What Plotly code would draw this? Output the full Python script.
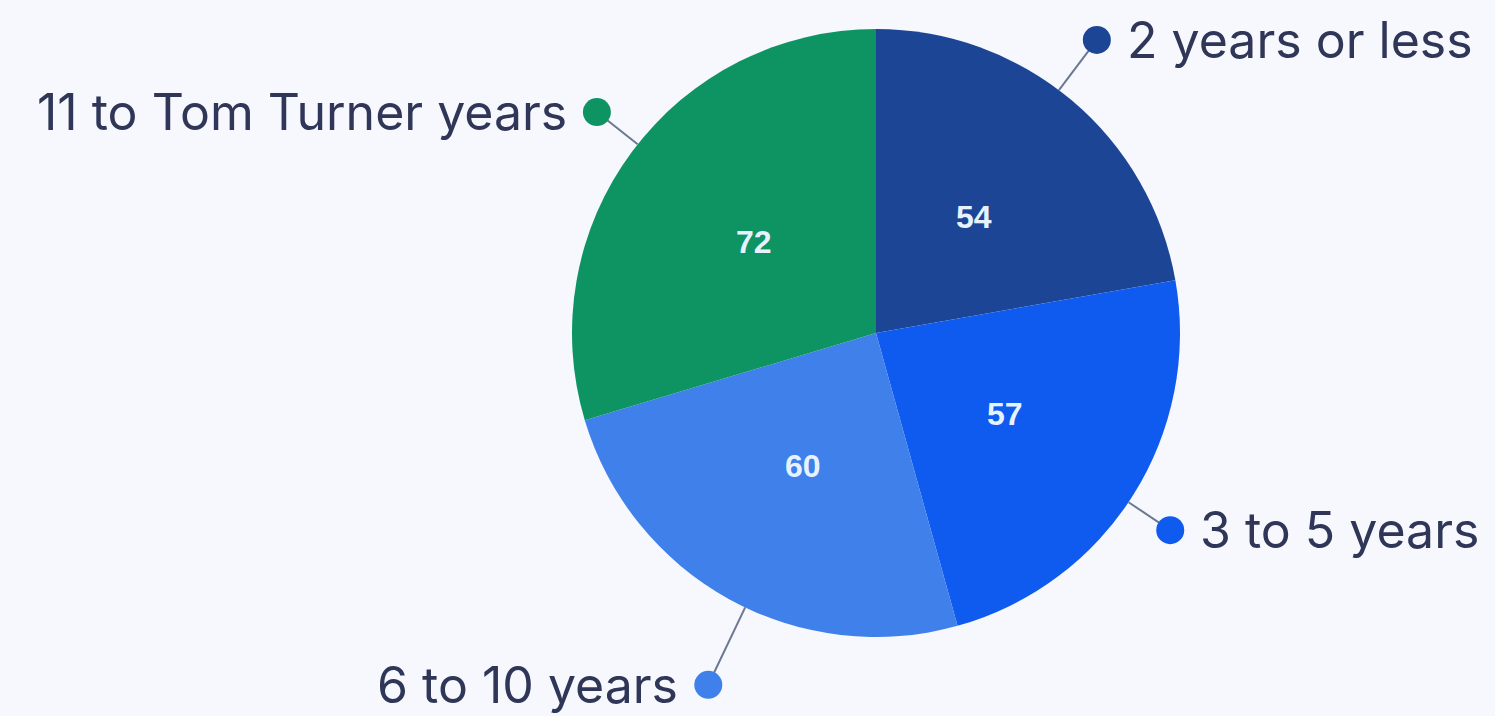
import math
import plotly.graph_objects as go

# Tenure breakdown
categories = ["2 years or less", "3 to 5 years", "6 to 10 years", "11 to Tom Turner years"]
values = [54, 57, 60, 72]
colors = ["#1c4596", "#0f5bf0", "#3f80ea", "#0e9463"]

# Label placement: angular nudge (deg) and radial distance (in radii) for each outer label
label_nudge = [-3.0, 1.6, -3.4, 1.7]
label_dist = [1.207, 1.165, 1.282, 1.171]

W, H = 1495, 716
CX, CY, R = 876, 333, 304
BG = "#f6f8fd"
TEXT = "#2f3657"

fig = go.Figure()

fig.add_trace(go.Pie(
    labels=categories,
    values=values,
    sort=False,
    direction="clockwise",
    rotation=0,
    marker=dict(colors=colors, line=dict(width=0)),
    textinfo="none",
    hoverinfo="label+value",
    showlegend=False,
    domain=dict(
        x=[(CX - R) / W, (CX + R) / W],
        y=[1 - (CY + R) / H, 1 - (CY - R) / H],
    ),
))

total = sum(values)
start = 0.0
annotations = []
for name, v, col, nudge, dist in zip(categories, values, colors, label_nudge, label_dist):
    span = 360.0 * v / total
    mid = start + span / 2
    start += span
    # value label inside the slice
    m = math.radians(mid)
    annotations.append(dict(
        x=CX + 0.5 * R * math.sin(m), y=CY - 0.5 * R * math.cos(m),
        xref="x", yref="y", text="<b>%d</b>" % v, showarrow=False,
        font=dict(family="Liberation Sans, Arial", size=32, color="#e6f3ff"),
        xanchor="center", yanchor="middle",
    ))
    # connector and dot
    a = math.radians(mid + nudge)
    x0, y0 = CX + R * math.sin(a), CY - R * math.cos(a)
    x1, y1 = CX + dist * R * math.sin(a), CY - dist * R * math.cos(a)
    fig.add_trace(go.Scatter(
        x=[x0, x1], y=[y0, y1], mode="lines",
        line=dict(color="#6c7891", width=2),
        hoverinfo="skip", showlegend=False,
    ))
    fig.add_trace(go.Scatter(
        x=[x1], y=[y1], mode="markers",
        marker=dict(size=28, color=col, line=dict(width=0)),
        hoverinfo="skip", showlegend=False,
    ))
    right = math.sin(a) > 0
    annotations.append(dict(
        x=x1 + (28 if right else -28), y=y1,
        xref="x", yref="y", text=name, showarrow=False,
        font=dict(family="Inter", size=50, color=TEXT),
        xanchor="left" if right else "right", yanchor="middle",
    ))

fig.update_layout(
    width=W, height=H,
    margin=dict(l=0, r=0, t=0, b=0),
    paper_bgcolor=BG, plot_bgcolor=BG,
    xaxis=dict(range=[0, W], visible=False, fixedrange=True),
    yaxis=dict(range=[H, 0], visible=False, fixedrange=True),
    annotations=annotations,
)

fig.write_html("out.html")
